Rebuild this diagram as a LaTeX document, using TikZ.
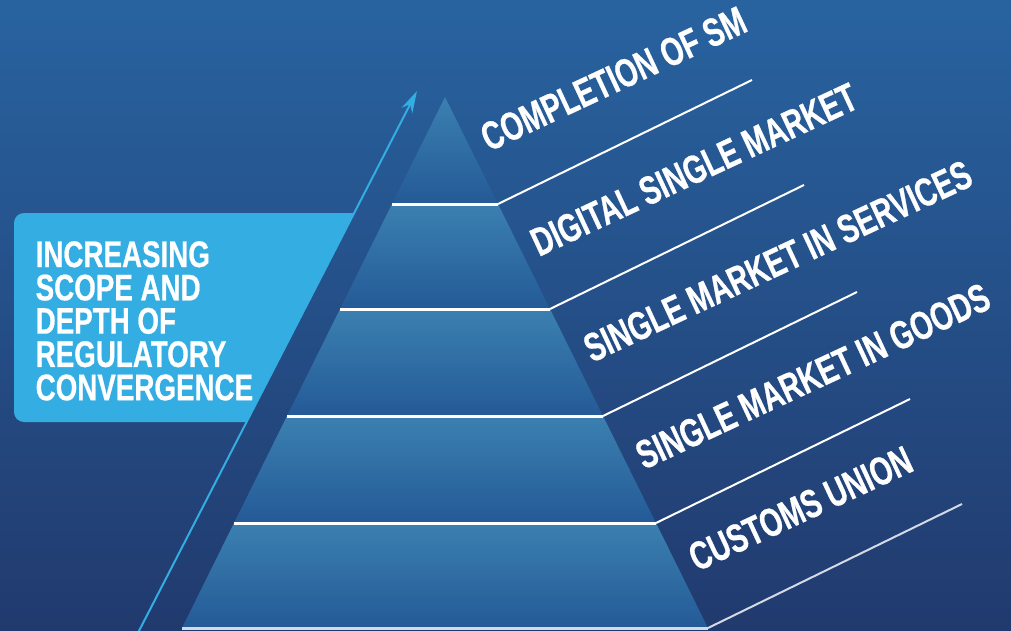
\documentclass[tikz,border=0pt]{standalone}
\usepackage{fontspec}
\newfontfamily\condfont[FakeStretch=0.75,FakeBold=0.6]{Liberation Sans Bold}
\newfontfamily\labfont[FakeStretch=0.71,FakeBold=0.6]{Liberation Sans Bold}
\usetikzlibrary{arrows.meta,calc}
\definecolor{bgtop}{HTML}{2863A0}
\definecolor{bgbot}{HTML}{213A6E}
\definecolor{boxblue}{HTML}{33ADE2}
\definecolor{laytop}{HTML}{3B80B0}
\definecolor{laybot}{HTML}{245A97}
\definecolor{greyline}{HTML}{D3DAE6}
\begin{document}
\begin{tikzpicture}[x=1pt,y=-1pt,
  lab/.style={font=\labfont\fontsize{40}{42}\selectfont, text=white, inner sep=0pt, anchor=base west, rotate=25},
  boxtxt/.style={font=\condfont\fontsize{37}{33.3}\selectfont, text=white, inner sep=0pt, align=left, anchor=north west},
  hline/.style={white, line width=3pt},
  dline/.style={white, line width=2pt},
  layer/.style={top color=laytop, bottom color=laybot},
  arrowline/.style={boxblue, line width=2pt, -{Stealth[length=22pt,width=12pt]}}]
\useasboundingbox (0,0) rectangle (1011,631);
\clip (0,0) rectangle (1011,631);
\shade[top color=bgtop, bottom color=bgbot] (0,0) rectangle (1011,631);

% pyramid corner coordinates
\coordinate (apex) at (445,97);
\coordinate (l1) at (392,204); \coordinate (r1) at (498,204);
\coordinate (l2) at (340,309); \coordinate (r2) at (550,309);
\coordinate (l3) at (287,416); \coordinate (r3) at (603,416);
\coordinate (l4) at (234,523); \coordinate (r4) at (656,523);
\coordinate (l5) at (182,628); \coordinate (r5) at (708,628);

% layers
\shade[layer] (apex) -- (r1) -- (l1) -- cycle;
\shade[layer] (l1) -- (r1) -- (r2) -- (l2) -- cycle;
\shade[layer] (l2) -- (r2) -- (r3) -- (l3) -- cycle;
\shade[layer] (l3) -- (r3) -- (r4) -- (l4) -- cycle;
\shade[layer] (l4) -- (r4) -- (r5) -- (l5) -- cycle;

% separators
\draw[hline] (l1) -- (r1);
\draw[hline] (l2) -- (r2);
\draw[hline] (l3) -- (r3);
\draw[hline] (l4) -- (r4);
\draw[hline, greyline] (l5) -- (r5);

% leader lines
\coordinate (e1) at ($(r1)+(254,-124)$);
\coordinate (e2) at ($(r2)+(254,-124)$);
\coordinate (e3) at ($(r3)+(254,-124)$);
\coordinate (e4) at ($(r4)+(254,-124)$);
\coordinate (e5) at ($(r5)+(254,-124)$);
\draw[dline] (r1) -- (e1);
\draw[dline] (r2) -- (e2);
\draw[dline] (r3) -- (e3);
\draw[dline] (r4) -- (e4);
\draw[dline, greyline] (r5) -- (e5);

% labels
\node[lab] (t1) at ($(r1)+(-9,-52)$) {COMPLETION OF SM};
\node[lab] (t2) at ($(r2)+(-11,-52)$) {DIGITAL SINGLE MARKET};
\node[lab] (t3) at ($(r3)+(-11,-53)$) {SINGLE MARKET IN SERVICES};
\node[lab] (t4) at ($(r4)+(-12,-53)$) {SINGLE MARKET IN GOODS};
\node[lab] (t5) at ($(r5)+(-11,-56)$) {CUSTOMS UNION};

% left box, cut along the arrow
\begin{scope}
  \clip (0,213) -- (354.2,213) -- (246.6,422) -- (0,422) -- cycle;
  \fill[boxblue, rounded corners=10pt] (14,213) rectangle (420,422);
\end{scope}
\node[boxtxt] (boxtext) at (35.5,241) {INCREASING\\SCOPE AND\\DEPTH OF\\REGULATORY\\CONVERGENCE};

% arrow
\coordinate (arrS) at (137.4,634);
\coordinate (arrE) at (417,91);
\draw[arrowline] (arrS) -- (arrE);
\end{tikzpicture}
\end{document}
